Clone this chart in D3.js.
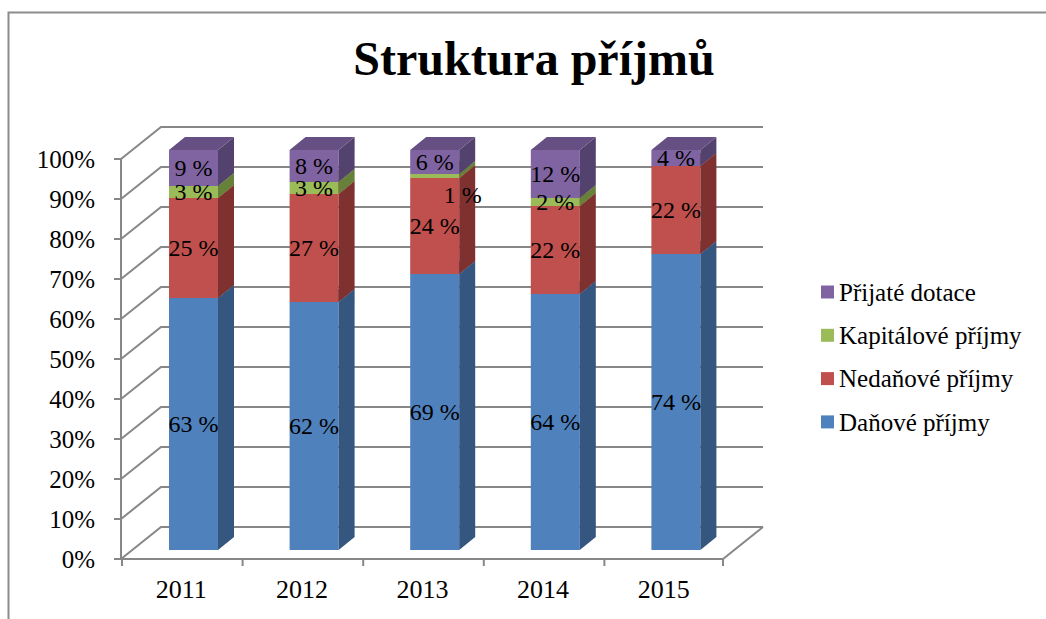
<!DOCTYPE html>
<html>
<head>
<meta charset="utf-8">
<script src="https://cdn.jsdelivr.net/npm/d3@7"></script>
<style>
  html, body { margin: 0; padding: 0; background: #fff; }
  svg { display: block; }
  text { font-family: "Liberation Serif", "Times New Roman", serif; fill: #000; }
</style>
</head>
<body>
<svg id="chart" width="1046" height="619" font-family="Liberation Serif, serif"></svg>
<script>
// ---- data ----
const title = "Struktura příjmů";
const years = ["2011", "2012", "2013", "2014", "2015"];
const seriesNames = ["Daňové příjmy", "Nedaňové příjmy", "Kapitálové příjmy", "Přijaté dotace"];
const danove     = [63, 62, 69, 64, 74];
const nedanove   = [25, 27, 24, 22, 22];
const kapitalove = [3, 3, 1, 2, 0];
const dotace     = [9, 8, 6, 12, 4];
const yTicks = [0, 10, 20, 30, 40, 50, 60, 70, 80, 90, 100];

const seriesValues = [danove, nedanove, kapitalove, dotace];
const frontColors = ["#4F81BD", "#C0504D", "#9BBB59", "#8064A2"];
const sideColors  = ["#35567E", "#7E312F", "#67813A", "#54426E"];
const topColors   = ["#4270A6", "#A4413E", "#83A248", "#654F83"];

const svg = d3.select("#chart");

// chart frame (clipped by window on right/bottom)
svg.append("rect").attr("x", 8.5).attr("y", 12.5).attr("width", 1100).attr("height", 700)
  .attr("fill", "none").attr("stroke", "#8c8c8c").attr("stroke-width", 2);

// title
svg.append("text").attr("x", 534).attr("y", 75).attr("text-anchor", "middle")
  .attr("font-size", 48).attr("font-weight", "bold").text(title);

// ---- geometry ----
const wallDX = 40, wallDY = -32;
const yFront = d3.scaleLinear().domain([0, 100]).range([559, 159]);
const x = d3.scaleBand().domain(years).range([122, 725]).padding(0);
const xAxisEnd = 723;
const barOffset = 47, barW = 49, depthDX = 16, depthDY = -13;
const yBar = d3.scaleLinear().domain([0, 100]).range([550, 150]);

const gridColor = "#878787";
const grid = svg.append("g");

yTicks.forEach(t => {
  const yf = yFront(t);
  grid.append("path")
    .attr("d", `M${121},${yf} L${121 + wallDX},${yf + wallDY} L${xAxisEnd + wallDX},${yf + wallDY}`)
    .attr("fill", "none").attr("stroke", gridColor).attr("stroke-width", 2);
});
grid.append("path")
  .attr("d", `M121,${yFront(0)} L${xAxisEnd},${yFront(0)} L${xAxisEnd + wallDX},${yFront(0) + wallDY}`)
  .attr("fill", "none").attr("stroke", gridColor).attr("stroke-width", 2);
grid.append("line").attr("x1", 121).attr("x2", 121).attr("y1", yFront(100)).attr("y2", yFront(0))
  .attr("stroke", gridColor).attr("stroke-width", 2);
yTicks.forEach(t => {
  grid.append("line").attr("x1", 114).attr("x2", 121).attr("y1", yFront(t)).attr("y2", yFront(t))
    .attr("stroke", gridColor).attr("stroke-width", 2);
  svg.append("text").attr("x", 95).attr("y", yFront(t)).attr("dy", "0.35em")
    .attr("text-anchor", "end").attr("font-size", 25).text(t + "%");
});
const xTickPos = years.map(y => x(y)).concat([xAxisEnd]);
xTickPos.forEach(px => {
  grid.append("line").attr("x1", px).attr("x2", px).attr("y1", yFront(0)).attr("y2", yFront(0) + 7)
    .attr("stroke", gridColor).attr("stroke-width", 2);
});
years.forEach(yr => {
  svg.append("text").attr("x", x(yr) + x.bandwidth() / 2 - 1).attr("y", 598)
    .attr("text-anchor", "middle").attr("font-size", 26).text(yr);
});

// ---- bars ----
const bars = svg.append("g");
const labels = [];
years.forEach((yr, i) => {
  const x0 = x(yr) + barOffset;
  let cum = 0;
  seriesValues.forEach((vals, s) => {
    const v = vals[i];
    if (v <= 0) return;
    const yb = yBar(cum), yt = yBar(cum + v);
    bars.append("rect").attr("x", x0).attr("y", yt).attr("width", barW).attr("height", yb - yt)
      .attr("fill", frontColors[s]);
    bars.append("path")
      .attr("d", `M${x0 + barW},${yb} L${x0 + barW + depthDX},${yb + depthDY} L${x0 + barW + depthDX},${yt + depthDY} L${x0 + barW},${yt} Z`)
      .attr("fill", sideColors[s]);
    bars.append("path")
      .attr("d", `M${x0},${yt} L${x0 + barW},${yt} L${x0 + barW + depthDX},${yt + depthDY} L${x0 + depthDX},${yt + depthDY} Z`)
      .attr("fill", topColors[s]);
    let lx = x0 + barW / 2, ly = (yb + yt) / 2;
    if (v < 2) { lx += 28; ly += 19; }   // small label placed beside the bar
    labels.push({ x: lx, y: ly, t: v + " %" });
    cum += v;
  });
});
svg.append("g").selectAll("text").data(labels).join("text")
  .attr("x", d => d.x).attr("y", d => d.y).attr("dy", "0.35em")
  .attr("text-anchor", "middle").attr("font-size", 24).text(d => d.t);

// ---- legend ----
const legendOrder = [3, 2, 1, 0];
const legend = svg.append("g");
legendOrder.forEach((s, k) => {
  const cy = 292 + k * 43.3;
  legend.append("rect").attr("x", 821).attr("y", cy - 6.5).attr("width", 13).attr("height", 13)
    .attr("fill", frontColors[s]);
  legend.append("text").attr("x", 839).attr("y", cy).attr("dy", "0.35em")
    .attr("font-size", 25).text(seriesNames[s]);
});
</script>
</body>
</html>
